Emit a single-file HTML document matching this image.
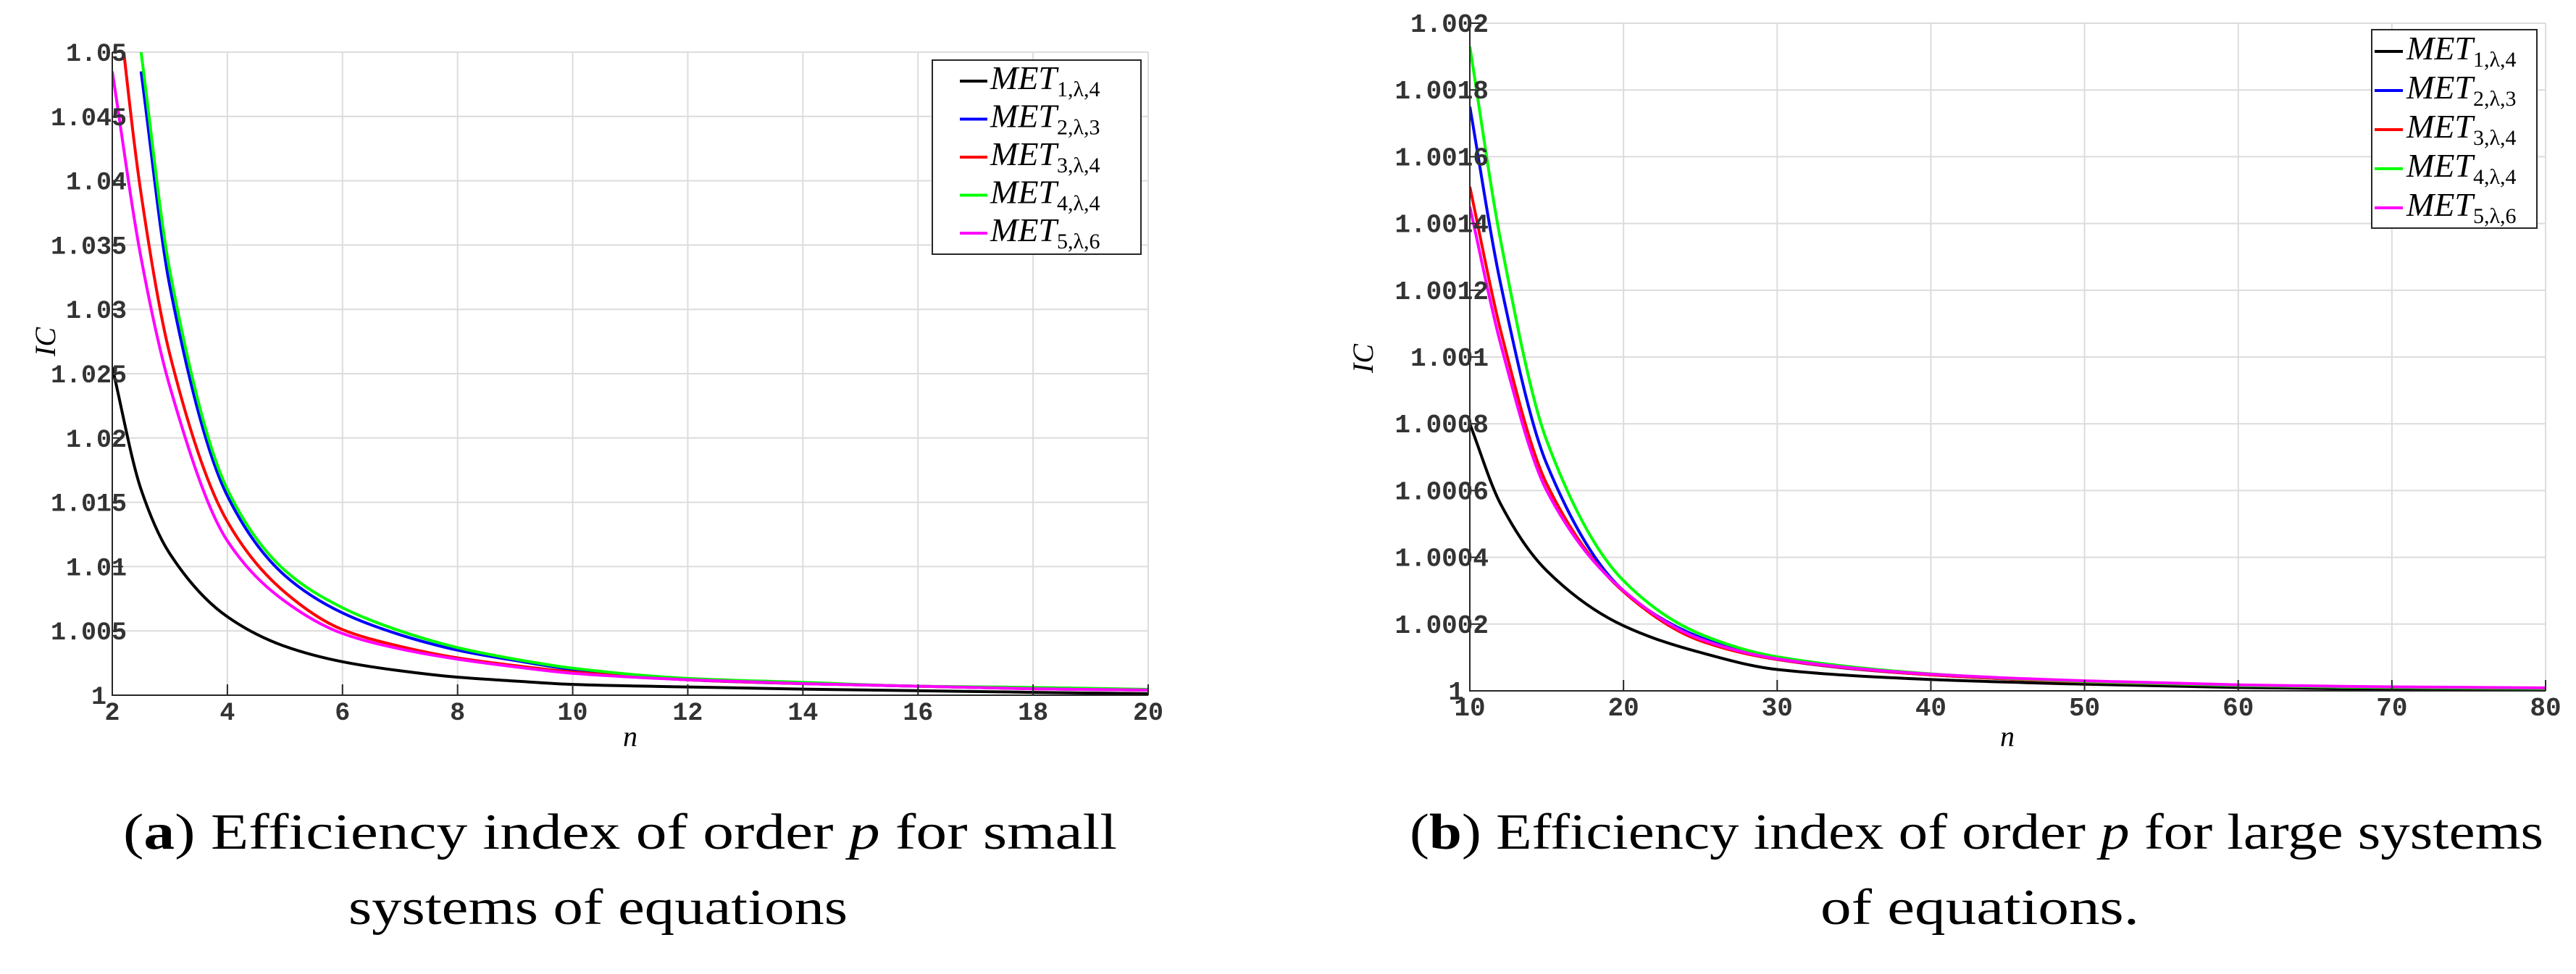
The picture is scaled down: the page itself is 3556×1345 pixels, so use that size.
<!DOCTYPE html>
<html><head><meta charset="utf-8"><style>
html,body{margin:0;padding:0;background:#fff;}
svg{display:block;}
.tk{font-family:"Liberation Mono",monospace;font-weight:bold;fill:#333;}
.lg{font-family:"Liberation Serif",serif;font-style:italic;fill:#000;}
.cap{font-family:"Liberation Serif",serif;fill:#000;}
</style></head><body>
<svg id="fig" width="3556" height="1345" viewBox="0 0 3556 1345" xmlns="http://www.w3.org/2000/svg">
<g id="chartA"></g>
<g id="chartB"></g>
<text class="cap" x="170" y="1172" font-size="70" textLength="1372" lengthAdjust="spacingAndGlyphs">(<tspan font-weight="bold">a</tspan>) Efficiency index of order <tspan font-style="italic">p</tspan> for small</text>
<text class="cap" x="481" y="1276" font-size="70" textLength="689" lengthAdjust="spacingAndGlyphs">systems of equations</text>
<text class="cap" x="1946" y="1172" font-size="70" textLength="1565" lengthAdjust="spacingAndGlyphs">(<tspan font-weight="bold">b</tspan>) Efficiency index of order <tspan font-style="italic">p</tspan> for large systems</text>
<text class="cap" x="2513" y="1276" font-size="70" textLength="440" lengthAdjust="spacingAndGlyphs">of equations.</text>
</svg>
<script>
// ---- Chart A data ----
const nA = [2, 2.5, 3, 4, 5, 6, 7, 8, 9, 10, 12, 14, 16, 18, 20];
const met1A = [1.0255, 1.0160, 1.0110, 1.0061, 1.0038, 1.0026, 1.0019, 1.0014, 1.0011, 1.00084, 1.00064, 1.00047, 1.00035, 1.00022, 1.00012];
const met2A = [null, 1.0485, 1.0318, 1.0155, 1.0093, 1.0064, 1.0047, 1.0035, 1.0027, 1.0020, 1.0012, 1.0009, 1.0007, 1.0005, 1.0004];
const met3A = [1.0580, 1.0390, 1.0265, 1.0135, 1.0080, 1.0051, 1.0038, 1.0029, 1.0023, 1.0018, 1.0012, 1.0009, 1.0007, 1.0005, 1.0004];
const met4A = [null, 1.0500, 1.0330, 1.0160, 1.0097, 1.0068, 1.0050, 1.0037, 1.0028, 1.0021, 1.0013, 1.0010, 1.0007, 1.0006, 1.00045];
const met5A = [1.0485, 1.0340, 1.0240, 1.0120, 1.0073, 1.0048, 1.0036, 1.0028, 1.0022, 1.0017, 1.0012, 1.0009, 1.0007, 1.0005, 1.0004];
const xTicksA = [2, 4, 6, 8, 10, 12, 14, 16, 18, 20];
const yTicksA = [1, 1.005, 1.01, 1.015, 1.02, 1.025, 1.03, 1.035, 1.04, 1.045, 1.05];
const yLabelsA = ["1", "1.005", "1.01", "1.015", "1.02", "1.025", "1.03", "1.035", "1.04", "1.045", "1.05"];
// ---- Chart B data ----
const nB = [10, 12, 15, 20, 25, 30, 40, 50, 60, 70, 80];
const met1B = [1.00080, 1.00056, 1.00036, 1.000195, 1.000115, 1.000064, 1.000034, 1.00002, 1.00001, 1.000005, 1.000002];
const met2B = [1.00175, 1.00122, 1.00068, 1.00030, 1.00016, 1.000094, 1.000048, 1.000027, 1.000016, 1.00001, 1.000007];
const met3B = [1.00151, 1.00108, 1.00062, 1.000297, 1.00015, 1.000094, 1.000048, 1.000027, 1.000016, 1.00001, 1.000007];
const met4B = [1.00193, 1.00135, 1.00075, 1.00033, 1.00017, 1.000102, 1.000051, 1.000028, 1.000016, 1.00001, 1.000007];
const met5B = [1.00145, 1.00104, 1.00060, 1.00030, 1.000155, 1.000096, 1.00005, 1.00003, 1.000018, 1.000012, 1.000009];
const xTicksB = [10, 20, 30, 40, 50, 60, 70, 80];
const yTicksB = [1, 1.0002, 1.0004, 1.0006, 1.0008, 1.001, 1.0012, 1.0014, 1.0016, 1.0018, 1.002];
const yLabelsB = ["1", "1.0002", "1.0004", "1.0006", "1.0008", "1.001", "1.0012", "1.0014", "1.0016", "1.0018", "1.002"];
const seriesNames = ["1,λ,4", "2,λ,3", "3,λ,4", "4,λ,4", "5,λ,6"];
const colors = ["#000000", "#0000ff", "#ff0000", "#00ff00", "#ff00ff"];

const NS = "http://www.w3.org/2000/svg";
function mk(tag, attrs, parent) {
  const e = document.createElementNS(NS, tag);
  for (const k in attrs) e.setAttribute(k, attrs[k]);
  parent.appendChild(e);
  return e;
}
// monotone cubic (Fritsch-Carlson) in screen coords
function monoPath(pts) {
  const n = pts.length;
  if (n < 2) return "";
  const dx = [], m = [];
  for (let i = 0; i < n - 1; i++) { dx.push(pts[i+1][0] - pts[i][0]); m.push((pts[i+1][1] - pts[i][1]) / dx[i]); }
  const t = [m[0]];
  for (let i = 1; i < n - 1; i++) {
    if (m[i-1] * m[i] <= 0) t.push(0);
    else {
      const w1 = 2 * dx[i] + dx[i-1], w2 = dx[i] + 2 * dx[i-1];
      t.push((w1 + w2) / (w1 / m[i-1] + w2 / m[i]));
    }
  }
  t.push(m[n-2]);
  let d = "M" + pts[0][0].toFixed(2) + "," + pts[0][1].toFixed(2);
  for (let i = 0; i < n - 1; i++) {
    const h = dx[i] / 3;
    d += " C" + (pts[i][0] + h).toFixed(2) + "," + (pts[i][1] + t[i] * h).toFixed(2) + " " +
         (pts[i+1][0] - h).toFixed(2) + "," + (pts[i+1][1] - t[i+1] * h).toFixed(2) + " " +
         pts[i+1][0].toFixed(2) + "," + pts[i+1][1].toFixed(2);
  }
  return d;
}
function drawChart(g, cfg) {
  const {L, R, T, B, xmin, xmax, ymin, ymax, xs, series, xt, yt, yl, tickFont, yLabelOff, legend, icPos, nPos, id} = cfg;
  const sx = v => L + (v - xmin) / (xmax - xmin) * (R - L);
  const sy = v => B - (v - ymin) / (ymax - ymin) * (B - T);
  xt.forEach(v => {
    const l = mk("line", {x1: sx(v), x2: sx(v), y1: T, y2: B, stroke: "#dcdcdc", "stroke-width": 2}, g);
    
    
  });
  yt.forEach(v => {
    const l = mk("line", {x1: L, x2: R, y1: sy(v), y2: sy(v), stroke: "#dcdcdc", "stroke-width": 2}, g);
    
    
  });
  const cp = mk("clipPath", {id: "clip" + id}, g);
  mk("rect", {x: L, y: T, width: R - L, height: B - T + 4}, cp);
  series.forEach((vals, si) => {
    const pts = [];
    xs.forEach((x, i) => { if (vals[i] !== null) pts.push([sx(x), sy(vals[i])]); });
    const p = mk("path", {d: monoPath(pts), fill: "none", stroke: colors[si], "stroke-width": 4, "clip-path": "url(#clip" + id + ")"}, g);
    
    
  });
  const ax = mk("path", {d: "M" + L + "," + T + " L" + L + "," + B + " L" + R + "," + B, fill: "none", stroke: "#262626", "stroke-width": 2}, g);
  
  
  xt.forEach(v => {
    const t = mk("line", {x1: sx(v), x2: sx(v), y1: B, y2: B - 15, stroke: "#262626", "stroke-width": 2}, g);
    
    
    const tx = mk("text", {x: sx(v), y: B + 34, "text-anchor": "middle", "font-size": tickFont, class: "tk"}, g);
    tx.textContent = String(v);
    
    
  });
  yt.forEach((v, i) => {
    const t = mk("line", {x1: L, x2: L + 15, y1: sy(v), y2: sy(v), stroke: "#262626", "stroke-width": 2}, g);
    
    
    const tx = mk("text", {x: (i === 0 ? L - 8 : L + yLabelOff), y: sy(v) + 12, "text-anchor": "end", "font-size": tickFont, class: "tk"}, g);
    tx.textContent = yl[i];
    
    
  });
  const ic = mk("text", {x: 0, y: 0, transform: "translate(" + icPos[0] + "," + icPos[1] + ") rotate(-90)", "text-anchor": "middle", "font-size": 40, class: "lg"}, g);
  ic.textContent = "IC";
  
  
  const nt = mk("text", {x: nPos[0], y: nPos[1], "text-anchor": "middle", "font-size": 40, class: "lg"}, g);
  nt.textContent = "n";
  
  
  const lg = mk("g", {}, g);
  
  
  mk("rect", {x: legend.x, y: legend.y, width: legend.w, height: legend.h, fill: "#fff", stroke: "#262626", "stroke-width": 2}, lg);
  seriesNames.forEach((nm, i) => {
    const by = legend.b0 + i * legend.dy;
    const ln = mk("line", {x1: legend.lx1, x2: legend.lx2, y1: by - 11, y2: by - 11, stroke: colors[i], "stroke-width": 4}, lg);
    
    
    const tx = mk("text", {x: legend.tx, y: by, "font-size": 46, class: "lg"}, lg);
    
    
    const m = mk("tspan", {}, tx); m.textContent = "MET";
    const s = mk("tspan", {"font-size": 30, "font-style": "normal", dy: 10}, tx); s.textContent = nm;
  });
}
drawChart(document.getElementById("chartA"), {
  id: "A", L: 155, R: 1585, T: 72, B: 960, xmin: 2, xmax: 20, ymin: 1, ymax: 1.05,
  xs: nA, series: [met1A, met2A, met3A, met4A, met5A], xt: xTicksA, yt: yTicksA, yl: yLabelsA,
  tickFont: 35, yLabelOff: 20, icPos: [76, 472], nPos: [870, 1030],
  legend: {x: 1287, y: 83, w: 288, h: 268, b0: 123, dy: 52.5, lx1: 1325, lx2: 1363, tx: 1367}
});
drawChart(document.getElementById("chartB"), {
  id: "B", L: 2029, R: 3514, T: 32, B: 954, xmin: 10, xmax: 80, ymin: 1, ymax: 1.002,
  xs: nB, series: [met1B, met2B, met3B, met4B, met5B], xt: xTicksB, yt: yTicksB, yl: yLabelsB,
  tickFont: 36, yLabelOff: 26, icPos: [1895, 495], nPos: [2771, 1030],
  legend: {x: 3274, y: 41, w: 228, h: 274, b0: 82, dy: 54, lx1: 3278, lx2: 3317, tx: 3322}
});
</script>
</body></html>
